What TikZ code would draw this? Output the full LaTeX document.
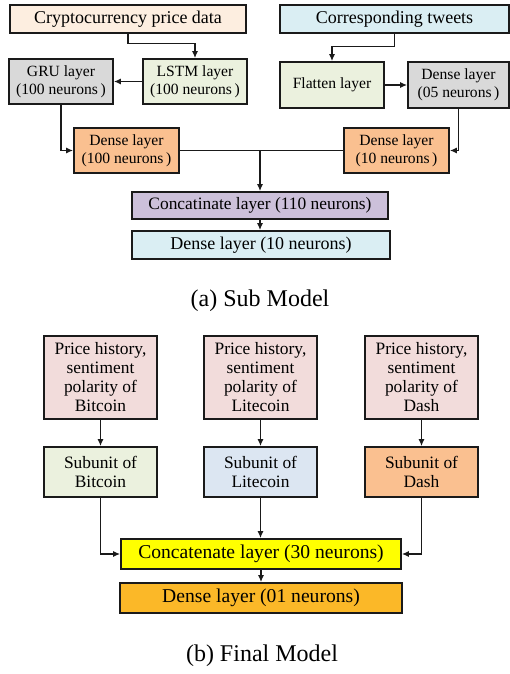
\documentclass[tikz,border=0pt]{standalone}
\usepackage{fontspec}
\setmainfont{Liberation Serif}
\usetikzlibrary{arrows.meta}
\definecolor{cpeach}{HTML}{FDEEE0}
\definecolor{cblue}{HTML}{DAEEF3}
\definecolor{cgray}{HTML}{D9D9D9}
\definecolor{cgreen}{HTML}{EBF1DE}
\definecolor{corange}{HTML}{FAC090}
\definecolor{cpurple}{HTML}{CCC0DA}
\definecolor{cpink}{HTML}{F2DCDB}
\definecolor{cblueb}{HTML}{DCE6F2}
\definecolor{cyellow}{HTML}{FFFF00}
\definecolor{camber}{HTML}{FBB828}
\definecolor{cline}{HTML}{1A1A1A}
\tikzset{
  box/.style={draw=cline, line width=1.6pt, inner sep=0pt, align=center, text=black},
  bigtext/.style={font=\fontsize{18}{20}\selectfont},
  smalltext/.style={font=\fontsize{15.6}{18}\selectfont},
  midtext/.style={font=\fontsize{17.4}{19}\selectfont},
  fintext/.style={font=\fontsize{19.6}{22}\selectfont},
  captext/.style={font=\fontsize{24}{26}\selectfont},
  conn/.style={draw=cline, line width=1.4pt, -{Latex[length=7pt,width=6pt]}},
  plain/.style={draw=cline, line width=1.4pt},
}
\begin{document}
\begin{tikzpicture}[x=1pt,y=-1pt]
\useasboundingbox (0,0) rectangle (510,674);
% (a) Sub model
\node[box, bigtext, fill=cpeach, minimum width=236pt, minimum height=28pt] (crypto) at (128,19) {Cryptocurrency price data};
\node[box, bigtext, fill=cblue, minimum width=229pt, minimum height=28pt] (tweets) at (394.5,19) {Corresponding tweets};
\node[box, smalltext, fill=cgray, minimum width=104pt, minimum height=45pt] (gru) at (61,81.5) {GRU layer\\(100 neurons\,)};
\node[box, smalltext, fill=cgreen, minimum width=104pt, minimum height=45pt] (lstm) at (195,81.5) {LSTM layer\\(100 neurons\,)};
\node[box, smalltext, fill=cgreen, minimum width=104pt, minimum height=46pt] (flat) at (332,85) {Flatten layer};
\node[box, smalltext, fill=cgray, minimum width=101pt, minimum height=46pt] (d05) at (458.5,85) {Dense layer\\(05 neurons\,)};
\node[box, smalltext, fill=corange, minimum width=105pt, minimum height=45pt] (d100) at (126.5,150.5) {Dense layer\\(100 neurons\,)};
\node[box, smalltext, fill=corange, minimum width=105pt, minimum height=45pt] (d10a) at (396.5,150.5) {Dense layer\\(10 neurons\,)};
\node[box, midtext, fill=cpurple, minimum width=256pt, minimum height=27pt] (cat) at (260,205.5) {Concatinate layer (110 neurons)};
\node[box, bigtext, fill=cblue, minimum width=258pt, minimum height=28pt] (dout) at (261,245) {Dense layer (10 neurons)};
\node[captext] (capa) at (260,301) {(a) Sub Model};
\draw[conn] (crypto.south) -- ++(0,10) -| (lstm.north);
\draw[conn] (lstm.west) -- (gru.east);
\draw[conn] (gru.south) |- (d100.west);
\draw[conn] (tweets.south) -- ++(0,13) -| (flat.north);
\draw[conn] (flat.east) -- (d05.west);
\draw[conn] (d05.south) |- (d10a.east);
\draw[plain] (d100.east) -- (d10a.west);
\coordinate (junc) at (cat.north |- d100.east);
\draw[conn] (junc) -- (cat.north);
\draw[conn] (cat.south) -- (dout.north -| cat.south);
% (b) Final model
\node[box, midtext, fill=cpink, minimum width=113pt, minimum height=83pt] (pb) at (100.5,377.5) {Price history,\\sentiment\\polarity of\\Bitcoin};
\node[box, midtext, fill=cpink, minimum width=113pt, minimum height=83pt] (pl) at (260.5,377.5) {Price history,\\sentiment\\polarity of\\Litecoin};
\node[box, midtext, fill=cpink, minimum width=113pt, minimum height=83pt] (pd) at (421.5,377.5) {Price history,\\sentiment\\polarity of\\Dash};
\node[box, midtext, fill=cgreen, minimum width=113pt, minimum height=50pt] (sb) at (100.5,472) {Subunit of\\Bitcoin};
\node[box, midtext, fill=cblueb, minimum width=113pt, minimum height=50pt] (sl) at (260.5,472) {Subunit of\\Litecoin};
\node[box, midtext, fill=corange, minimum width=113pt, minimum height=50pt] (sd) at (421.5,472) {Subunit of\\Dash};
\node[box, fintext, fill=cyellow, minimum width=280pt, minimum height=30pt] (catf) at (261,554) {Concatenate layer (30 neurons)};
\node[box, fintext, fill=camber, minimum width=282pt, minimum height=30pt] (d01) at (261,598) {Dense layer (01 neurons)};
\node[captext] (capb) at (262,656) {(b) Final Model};
\draw[conn] (pb.south) -- (sb.north);
\draw[conn] (pl.south) -- (sl.north);
\draw[conn] (pd.south) -- (sd.north);
\draw[conn] (sb.south) |- (catf.west);
\draw[conn] (sl.south) -- (sl.south |- catf.north);
\draw[conn] (sd.south) |- (catf.east);
\draw[conn] (catf.south) -- (d01.north);
\end{tikzpicture}
\end{document}
